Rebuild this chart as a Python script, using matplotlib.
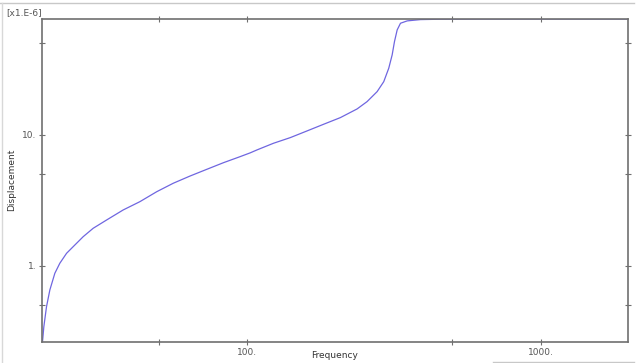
import matplotlib
matplotlib.use("Agg")
import matplotlib.pyplot as plt
from matplotlib.lines import Line2D
from matplotlib.ticker import LogLocator, FuncFormatter, NullFormatter

# frequency response (displacement in 1e-6 units)
freq = [20.0, 20.08, 20.29, 20.72, 21.27, 22.12, 23.0, 24.25, 25.54, 27.63,
        29.88, 33.2, 37.8, 43.1, 49.2, 56.0, 63.9, 72.9, 83.0, 94.6,
        102.4, 107.9, 122.9, 140.2, 159.9, 182.2, 207.7, 236.8, 256.1, 277.1,
        291.9, 303.6, 311.8, 317.5, 324.3, 332.9, 350.9, 389.4, 456.0, 600.0,
        1000.0, 1983.0]
disp = [0.263, 0.264, 0.344, 0.489, 0.656, 0.880, 1.049, 1.25, 1.404, 1.674,
        1.94, 2.244, 2.676, 3.096, 3.69, 4.28, 4.86, 5.47, 6.14, 6.83,
        7.3, 7.68, 8.64, 9.54, 10.73, 12.07, 13.56, 15.79, 17.96, 21.4,
        25.5, 32.3, 40.8, 51.5, 63.3, 71.2, 74.2, 75.9, 76.4, 76.6,
        76.7, 76.7]

x_range = (20.0, 1983.0)
y_range = (0.263, 76.7)

fig = plt.figure(figsize=(6.44, 3.63), dpi=100)
ax = fig.add_axes([42 / 644, 1 - 342 / 363, (628 - 42) / 644, (342 - 19) / 363])

ax.plot(freq, disp, color="#6f66e0", linewidth=0.9)
ax.set_xscale("log")
ax.set_yscale("log")
ax.set_xlim(*x_range)
ax.set_ylim(*y_range)

fmt = FuncFormatter(lambda v, p: "%g." % v)
for axis in (ax.xaxis, ax.yaxis):
    axis.set_major_locator(LogLocator(base=10))
    axis.set_minor_locator(LogLocator(base=10, subs=[5]))
    axis.set_major_formatter(fmt)
    axis.set_minor_formatter(NullFormatter())

grey = "#707070"
for s in ax.spines.values():
    s.set_color(grey)
    s.set_linewidth(1.2)
ax.tick_params(which="both", direction="inout", length=4, width=0.8,
               color=grey, labelcolor="#555555", labelsize=6.5,
               top=True, right=True, pad=2)

fig.text(335 / 644, 1 - 356 / 363, "Frequency", fontsize=6.5, color="#333333",
         ha="center", va="center")
fig.text(12 / 644, 1 - 180 / 363, "Displacement", fontsize=6.5, color="#333333",
         ha="center", va="center", rotation=90)
fig.text(6 / 644, 1 - 13 / 363, "[x1.E-6]", fontsize=6.5, color="#555555",
         va="center", ha="left")

# light frame around the screenshot
fig.add_artist(Line2D([0, 634 / 644], [1 - 3 / 363] * 2, color="#c8c8c8", lw=1))
fig.add_artist(Line2D([2 / 644] * 2, [0, 1 - 3 / 363], color="#d8d8d8", lw=1))
fig.add_artist(Line2D([493 / 644, 634 / 644], [1.5 / 363] * 2, color="#c8c8c8", lw=1))

fig.savefig("out.png", dpi=100)
